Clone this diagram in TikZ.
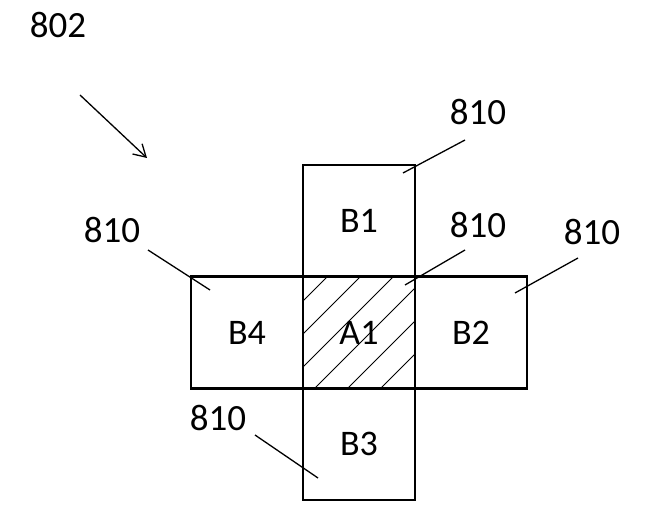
\documentclass[tikz,border=0pt]{standalone}
\usepackage{fontspec}
\setmainfont{Carlito}
\usetikzlibrary{arrows.meta}
\begin{document}
\begin{tikzpicture}[x=1pt,y=-1pt,
  cell/.style={draw,line width=2.6pt,minimum size=112pt,inner sep=0pt,font=\fontsize{36}{40}\selectfont},
  lbl/.style={font=\fontsize{37}{40}\selectfont},
  lead/.style={line width=1.3pt}]
  \useasboundingbox (0,0) rectangle (650,529);

  % hatching of the centre cell
  \begin{scope}
    \clip (303,277) rectangle (415,388);
    \foreach \s in {0,33,...,270}
      \draw [line width=1pt] (303+\s-120,388) -- ++(120,-120);
  \end{scope}

  % cells
  \node [cell] (a1) at (359,332.5) {A1};
  \node [cell] (b1) at (359,221) {B1};
  \node [cell] (b2) at (471,332.5) {B2};
  \node [cell] (b3) at (359,444) {B3};
  \node [cell] (b4) at (247,332.5) {B4};

  % reference numerals
  \node [lbl] (fig) at (58,25) {802};
  \coordinate (arrs) at (80,95);
  \coordinate (arre) at (147,158);
  \draw [-{Straight Barb[length=12pt,width=14pt]},line width=1.3pt] (arrs) -- (arre);

  \node [lbl] (n1) at (478,112) {810};
  \node [lbl] (n2) at (478,225) {810};
  \node [lbl] (n3) at (592,232) {810};
  \node [lbl] (n4) at (112,230) {810};
  \node [lbl] (n5) at (218,418) {810};

  \coordinate (t1) at (403,173);
  \coordinate (t2) at (405,285);
  \coordinate (t3) at (515,293);
  \coordinate (t4) at (210,290);
  \coordinate (t5) at (318,478);
  \draw [lead] (465,140) -- (t1);
  \draw [lead] (465,250) -- (t2);
  \draw [lead] (578,258) -- (t3);
  \draw [lead] (148,250) -- (t4);
  \draw [lead] (255,435) -- (t5);
\end{tikzpicture}
\end{document}
